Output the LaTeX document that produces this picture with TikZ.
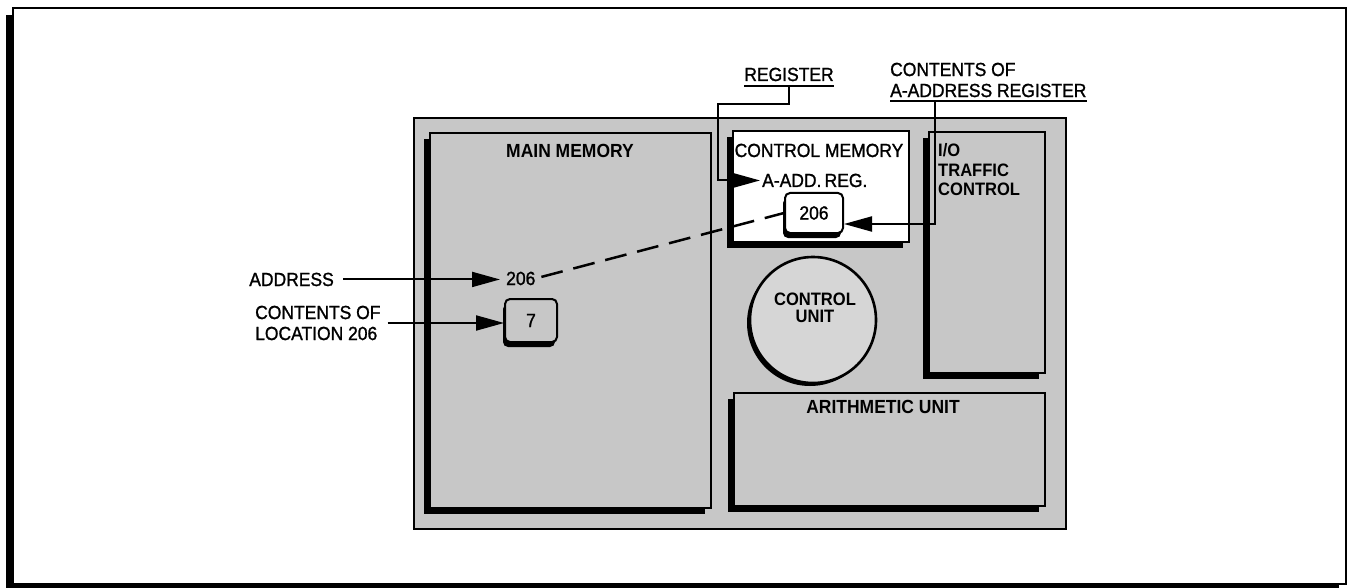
\documentclass[tikz,border=0pt]{standalone}
\usepackage{fontspec}
\setmainfont{Liberation Sans}[FakeStretch=0.92]
\newfontfamily\lettering{Liberation Sans}[FakeStretch=0.92, FakeBold=1.2]
\usetikzlibrary{arrows.meta,shadows}
\definecolor{panel}{gray}{0.78}
\definecolor{disc}{gray}{0.84}
\tikzset{
  solidshadow/.style n args={2}{drop shadow={shadow xshift=#1, shadow yshift=#2, fill=black, opacity=1}},
  sheet/.style={draw, line width=1.6pt, fill=white, inner sep=0pt, anchor=north west, solidshadow={-7pt}{-7pt}},
  cabinet/.style={draw, line width=1.6pt, fill=panel, inner sep=0pt, anchor=north west},
  unitbox/.style={draw, line width=2pt, fill=panel, inner sep=0pt, anchor=north west, solidshadow={-6pt}{-6pt}},
  cell/.style={draw, line width=2pt, rounded corners=5pt, inner sep=0pt, solidshadow={-2pt}{-5pt}, font=\lettering\fontsize{19}{21}\selectfont},
  lbl/.style={inner sep=0pt, font=\lettering\fontsize{19}{21}\selectfont},
  blbl/.style={inner sep=0pt, font=\bfseries\fontsize{18}{19.5}\selectfont},
  conn/.style={line width=2pt},
  tip/.style={-{Triangle[length=28pt,width=15pt]}},
}
\begin{document}
\begin{tikzpicture}[x=1pt,y=-1pt]
\useasboundingbox (0,0) rectangle (1349,588);

% sheet and computer cabinet
\node[sheet, minimum width=1333pt, minimum height=576pt] (page) at (12,7) {};
\node[cabinet, minimum width=652pt, minimum height=411pt] (cpu) at (413,117) {};

% functional units
\node[unitbox, minimum width=281pt, minimum height=375pt] (mm) at (429,132) {};
\node[unitbox, fill=white, minimum width=176pt, minimum height=111pt] (cm) at (732,130) {};
\node[unitbox, minimum width=116pt, minimum height=241pt] (io) at (928,131) {};
\node[unitbox, minimum width=311pt, minimum height=113pt] (au) at (733,392) {};
\node[circle, draw, line width=2.6pt, fill=disc, minimum size=126pt, inner sep=0pt,
      solidshadow={-3pt}{-3pt}] (cu) at (813,320) {};

% unit titles
\node[blbl, font=\bfseries\fontsize{19}{21}\selectfont, anchor=base] (mmtitle) at (570,158) {MAIN MEMORY};
\node[lbl, anchor=base] (cmtitle) at (819,157) {CONTROL MEMORY};
\node[lbl, anchor=base west] (areg) at (762,187) {A-ADD.\,REG.};
\node[blbl, align=left, anchor=north west] (iotitle) at (938,143.5) {I/O\\TRAFFIC\\CONTROL};
\node[blbl, align=center, font=\bfseries\fontsize{18}{17}\selectfont] (cutitle) at (815,308) {CONTROL\\UNIT};
\node[blbl, font=\bfseries\fontsize{19}{21}\selectfont, anchor=base] (autitle) at (883,413) {ARITHMETIC UNIT};

% register and memory cells
\node[cell, fill=white, minimum width=58pt, minimum height=40pt] (b206) at (814,213) {206};
\node[cell, fill=panel, minimum width=52pt, minimum height=43pt] (b7) at (531,320.5) {7};
\node[lbl, anchor=base west] (a206) at (506,285) {206};

% outside labels
\node[lbl, anchor=base east] (addrlbl) at (334,286) {ADDRESS};
\node[lbl, align=left, anchor=west] (loclbl) at (255,323) {CONTENTS OF\\LOCATION 206};
\node[lbl, anchor=base] (reglbl) at (789,81) {REGISTER};
\node[lbl, align=left, anchor=west] (caddr) at (890,80) {CONTENTS OF\\A-ADDRESS REGISTER};

% underlines
\draw[conn] ([yshift=-5pt]reglbl.south west) -- ([yshift=-5pt]reglbl.south east);
\draw[conn] ([yshift=-4pt]caddr.south west) -- ([yshift=-4pt]caddr.south east);

% leaders
\coordinate (rk) at (718,104);
\coordinate (ck) at (935,224);
\draw[conn, tip] ([yshift=-5pt]reglbl.south) |- (rk) |- ([xshift=-2pt]areg.west);
\draw[conn, tip] ([yshift=-4pt]caddr.south west -| ck) -- (ck) -- (ck -| b206.east);
\draw[conn, tip, shorten <=9pt] (addrlbl.east) -- ([xshift=-6pt]addrlbl.east -| a206.west);
\draw[conn, tip, shorten <=7pt] (loclbl.east) -- (loclbl.east -| b7.west);
\draw[line width=2.5pt, dash pattern=on 22pt off 11pt, shorten <=6pt] (a206.east) -- (b206.west);
\end{tikzpicture}
\end{document}
